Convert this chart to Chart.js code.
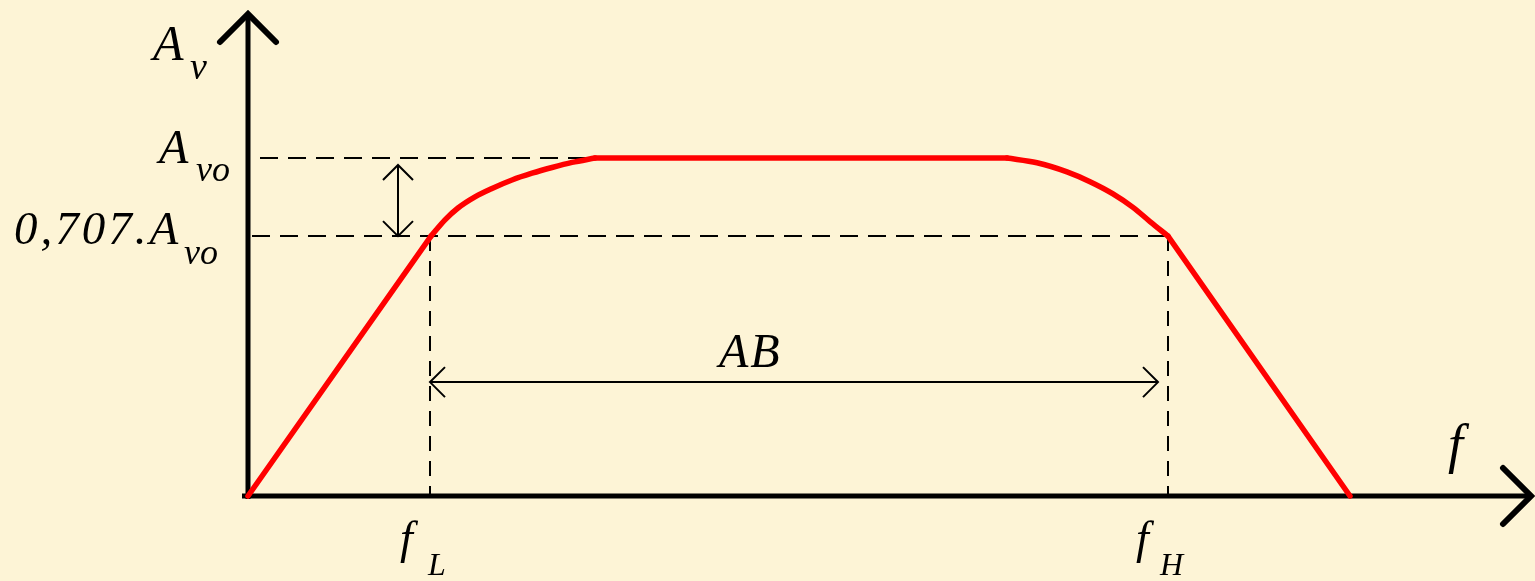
<!DOCTYPE html>
<html>
<head>
<meta charset="utf-8">
<script src="https://cdn.jsdelivr.net/npm/chart.js@4.4.1/dist/chart.umd.min.js"></script>
<style>
  html, body { margin: 0; padding: 0; background: #fdf4d6; }
  #wrap { width: 1535px; height: 581px; position: relative; }
</style>
</head>
<body>
<div id="wrap"><canvas id="bode"></canvas></div>
<script>
// data (frequency in arbitrary units, gain relative to Avo)
// rising slope, lower knee, flat band, upper knee, falling slope
const riseFreq = [0, 1.83];
const riseGain = [0, 0.769];
const kneeLowFreq = [1.83, 1.97, 2.10, 2.27, 2.44, 2.64, 2.84, 3.04, 3.24, 3.47];
const kneeLowGain = [0.769, 0.817, 0.852, 0.885, 0.910, 0.935, 0.955, 0.972, 0.987, 1];
const flatFreq = [3.47, 7.59];
const flatGain = [1, 1];
const kneeHighFreq = [7.59, 7.89, 8.19, 8.42, 8.65, 8.85, 9.02, 9.20];
const kneeHighGain = [1, 0.986, 0.959, 0.930, 0.894, 0.854, 0.812, 0.769];
const fallFreq = [9.20, 11.02];
const fallGain = [0.769, 0];

const fL = 1.82;
const fH = 9.20;
const gainMid = 1;        // A_vo
const gainCut = 0.769;    // 0,707.A_vo level
const freqMax = 12.85;
const gainMax = 1.432;

const labelAvo = 'A';
const labelCut = '0,707.A';
const labelSub = 'vo';

// helpers
function pts(xs, ys) {
    return xs.map((x, i) => ({ x: x, y: ys[i] }));
}

function chevron(ctx, x, y, dir, size) {
    // tip at (x, y)
    ctx.beginPath();
    if (dir === 'up') { ctx.moveTo(x - size, y + size); ctx.lineTo(x, y); ctx.lineTo(x + size, y + size); }
    if (dir === 'down') { ctx.moveTo(x - size, y - size); ctx.lineTo(x, y); ctx.lineTo(x + size, y - size); }
    if (dir === 'left') { ctx.moveTo(x + size, y - size); ctx.lineTo(x, y); ctx.lineTo(x + size, y + size); }
    if (dir === 'right') { ctx.moveTo(x - size, y - size); ctx.lineTo(x, y); ctx.lineTo(x - size, y + size); }
    ctx.stroke();
}

function italic(ctx, text, x, y, size, spacing) {
    ctx.font = 'italic ' + size + 'px "Liberation Serif", "Times New Roman", serif';
    ctx.letterSpacing = (spacing || 0) + 'px';
    ctx.fillText(text, x, y);
    ctx.letterSpacing = '0px';
}

// axes under the curve, arrows and labels over it
const axesPlugin = {
    id: 'axesPlugin',
    beforeDatasetsDraw(chart) {
        const ctx = chart.ctx;
        const xs = chart.scales.x, ys = chart.scales.y;
        const x0 = xs.getPixelForValue(0), y0 = ys.getPixelForValue(0);
        const xEnd = xs.getPixelForValue(freqMax), yEnd = ys.getPixelForValue(gainMax);
        ctx.save();
        ctx.strokeStyle = '#000';
        ctx.lineWidth = 5;
        ctx.lineCap = 'butt';
        ctx.beginPath();
        ctx.moveTo(x0, y0 + 3);
        ctx.lineTo(x0, yEnd + 3);
        ctx.moveTo(x0 - 6, y0);
        ctx.lineTo(xEnd - 2, y0);
        ctx.stroke();
        ctx.lineWidth = 6;
        ctx.lineCap = 'round';
        chevron(ctx, x0, yEnd + 2, 'up', 28);
        chevron(ctx, xEnd - 2, y0, 'right', 28);
        ctx.restore();
    },
    afterDatasetsDraw(chart) {
        const ctx = chart.ctx;
        const xs = chart.scales.x, ys = chart.scales.y;
        const x0 = xs.getPixelForValue(0), y0 = ys.getPixelForValue(0);
        const xL = xs.getPixelForValue(fL), xH = xs.getPixelForValue(fH);
        const yMid = ys.getPixelForValue(gainMid), yCut = ys.getPixelForValue(gainCut);
        ctx.save();
        ctx.strokeStyle = '#000';
        ctx.lineWidth = 2;
        ctx.lineCap = 'butt';

        // vertical gain arrow
        const xa = xs.getPixelForValue(1.5);
        ctx.beginPath();
        ctx.moveTo(xa, yMid + 7);
        ctx.lineTo(xa, yCut);
        ctx.stroke();
        chevron(ctx, xa, yMid + 7, 'up', 15);
        chevron(ctx, xa, yCut, 'down', 15);

        // bandwidth arrow
        const yab = ys.getPixelForValue(0.337);
        ctx.beginPath();
        ctx.moveTo(xL, yab);
        ctx.lineTo(xH - 10, yab);
        ctx.stroke();
        chevron(ctx, xL, yab, 'left', 15);
        chevron(ctx, xH - 10, yab, 'right', 15);

        // labels
        ctx.fillStyle = '#000';
        ctx.textAlign = 'left';
        ctx.textBaseline = 'alphabetic';
        const yTop = ys.getPixelForValue(gainMax);
        italic(ctx, 'A', x0 - 95, yTop + 48, 50);
        italic(ctx, 'v', x0 - 58, yTop + 67, 38);
        italic(ctx, labelAvo, x0 - 89, yMid + 5, 48);
        italic(ctx, labelSub, x0 - 52, yMid + 23, 36);
        italic(ctx, labelCut, x0 - 234, yCut + 8, 47, 3);
        italic(ctx, labelSub, x0 - 64, yCut + 28, 36);
        italic(ctx, 'AB', xs.getPixelForValue(4.71), yab - 15, 48, 2);
        italic(ctx, 'f', xL - 30, y0 + 57, 46);
        italic(ctx, 'L', xL - 2, y0 + 79, 32);
        italic(ctx, 'f', xH - 32, y0 + 57, 46);
        italic(ctx, 'H', xH - 8, y0 + 79, 32);
        italic(ctx, 'f', xs.getPixelForValue(12.0), y0 - 34, 54);
        ctx.restore();
    }
};

const dash = [18, 10];
function red(xs, ys, smooth) {
    return {
        data: pts(xs, ys),
        borderColor: '#ff0000',
        borderWidth: 5.5,
        borderCapStyle: 'round',
        borderJoinStyle: 'round',
        cubicInterpolationMode: smooth ? 'monotone' : 'default',
        order: 0
    };
}
function dashed(xs, ys, pattern) {
    return { data: pts(xs, ys), borderColor: '#000', borderWidth: 2, borderDash: pattern, order: 1 };
}

const data = {
    datasets: [
        red(riseFreq, riseGain, false),
        red(kneeLowFreq, kneeLowGain, true),
        red(flatFreq, flatGain, false),
        red(kneeHighFreq, kneeHighGain, true),
        red(fallFreq, fallGain, false),
        dashed([0.12, 3.45], [gainMid, gainMid], dash),
        dashed([0.04, 9.27], [gainCut, gainCut], dash),
        dashed([fL, fL], [gainCut, 0], [15, 10]),
        dashed([fH, fH], [gainCut, 0], [15, 10])
    ]
};

const config = {
    type: 'scatter',
    data: data,
    options: {
        responsive: true,
        maintainAspectRatio: false,
        animation: false,
        showLine: true,
        elements: { point: { radius: 0, hoverRadius: 0 }, line: { tension: 0 } },
        datasets: { scatter: { clip: false } },
        layout: { padding: { left: 248, right: 2, top: 12, bottom: 85 } },
        scales: {
            x: { type: 'linear', min: 0, max: freqMax, display: false },
            y: { type: 'linear', min: 0, max: gainMax, display: false }
        },
        plugins: {
            legend: { display: false },
            tooltip: { enabled: false }
        }
    },
    plugins: [axesPlugin]
};

const chart = new Chart(document.getElementById('bode').getContext('2d'), config);
</script>
</body>
</html>
